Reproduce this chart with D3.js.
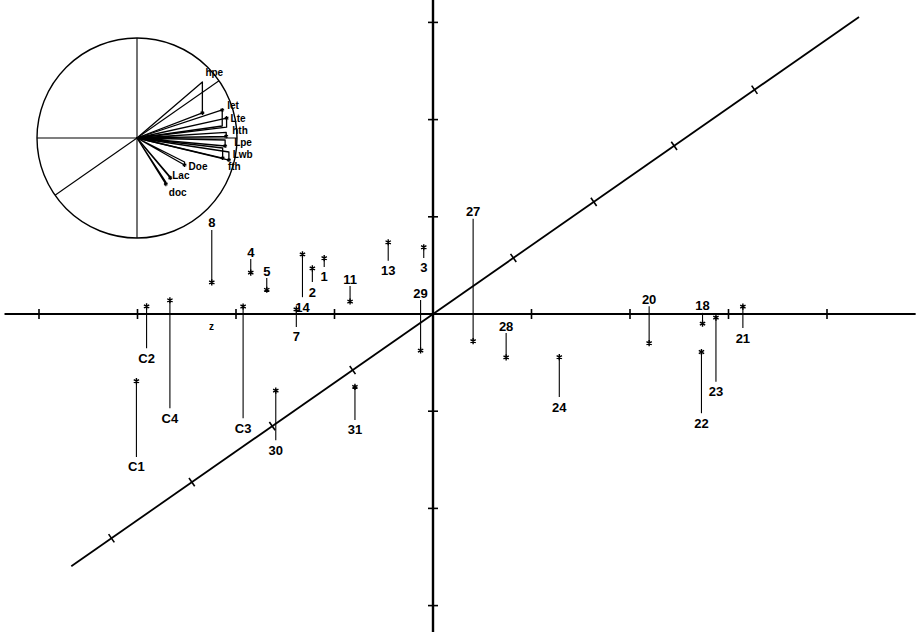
<!DOCTYPE html>
<html>
<head>
<meta charset="utf-8">
<script src="https://cdn.jsdelivr.net/npm/d3@7"></script>
<style>
  body { margin: 0; background: #fff; }
  text { font-family: "Liberation Sans", Arial, sans-serif; font-weight: bold; fill: #000; }
</style>
</head>
<body>
<div id="chart"></div>
<script>
// observations: x = horizontal axis, z = depth (diagonal axis), y = height above the x-z plane
var labels = ["8", "4", "5", "14", "2", "1", "11", "13", "3", "29", "27", "28", "24",
    "20", "18", "22", "23", "21", "C1", "C2", "C4", "C3", "7", "30", "31"];
var xVals = [-3.47, -2.65, -2.21, -1.57, -1.69, -1.79, -1.25, -1.23, -0.91, -0.33, -0.98, 1.02, 2.49,
    2.08, 2.72, 4.17, 3.86, 3.35, -0.93, -2.41, -1.30, -0.41, -1.20, 0.24, 0.75];
var zVals = [1.50, 0.98, 0.64, 0.30, 0.57, 0.84, 0.50, 0.95, 1.00, 0.25, 1.70, -0.34, -1.48,
    0.14, 0.02, -1.77, -1.21, -0.25, -2.55, -0.61, -1.68, -1.86, -0.23, -2.25, -1.89];
var yVals = [-0.54, -0.14, -0.12, 0.44, 0.14, 0.09, -0.16, 0.19, 0.11, -0.52, -1.26, -0.25, 0.41,
    -0.38, -0.11, 0.63, 0.66, 0.22, 0.78, 0.43, 1.11, 1.15, 0.18, 0.51, 0.34];

// axis ticks
var xTicks = [-4, -3, -2, -1, 1, 2, 3, 4];
var yTicks = [-3, -2, -1, 1, 2, 3];
var zTicks = [-4, -3, -2, -1, 1, 2, 3, 4];

// variables in the correlation circle
var varNames = ["hpe", "let", "Lte", "hth", "Lpe", "Lwb", "fth", "Doe", "Lac", "doc"];
var varX = [-0.15, 0.68, 0.74, 0.81, 0.91, 1.00, 1.12, 0.82, 0.89, 0.92];
var varZ = [0.98, 0.21, 0.19, 0.10, -0.035, -0.175, -0.245, -0.42, -0.68, -0.77];
var varY = [-0.31, 0.16, 0.09, -0.04, -0.06, -0.10, -0.08, -0.03, -0.01, -0.02];

let width = 920;
let height = 632;

let svg = d3.select("#chart").append("svg")
    .attr("width", width)
    .attr("height", height);

svg.append("rect").attr("width", width).attr("height", height).attr("fill", "#fff");

let ox = 433, oy = 314;
let x = d3.scaleLinear().domain([0, 1]).range([ox, ox + 98.5]);
let y = d3.scaleLinear().domain([0, 1]).range([oy, oy - 97.2]);
let z = d3.scaleLinear().domain([0, 1]).range([0, 98]);
let ang = Math.atan2(56, 80.3);

function project(px, py, pz) {
    return [x(px) + z(pz) * Math.cos(ang), y(py) - z(pz) * Math.sin(ang)];
}

let axes = svg.append("g").attr("stroke", "#000").attr("fill", "none");

// horizontal axis
axes.append("line")
    .attr("x1", x(-4.35)).attr("y1", oy).attr("x2", x(4.9)).attr("y2", oy)
    .attr("stroke-width", 1.8);
axes.selectAll(".xtick").data(xTicks).join("line")
    .attr("class", "xtick")
    .attr("x1", d => x(d)).attr("x2", d => x(d))
    .attr("y1", oy - 5).attr("y2", oy + 5)
    .attr("stroke-width", 1.6);

// vertical axis
axes.append("line")
    .attr("x1", ox).attr("y1", y(3.25)).attr("x2", ox).attr("y2", y(-3.3))
    .attr("stroke-width", 2.4);
axes.selectAll(".ytick").data(yTicks).join("line")
    .attr("class", "ytick")
    .attr("x1", ox - 5).attr("x2", ox + 5)
    .attr("y1", d => y(d)).attr("y2", d => y(d))
    .attr("stroke-width", 1.6);

// diagonal (depth) axis
let d0 = project(0, 0, -4.5), d1 = project(0, 0, 5.3);
axes.append("line")
    .attr("x1", d0[0]).attr("y1", d0[1]).attr("x2", d1[0]).attr("y2", d1[1])
    .attr("stroke-width", 1.8);
let nx = Math.sin(ang) * 5, ny = Math.cos(ang) * 5;
axes.selectAll(".ztick").data(zTicks).join("line")
    .attr("class", "ztick")
    .attr("x1", d => project(0, 0, d)[0] - nx).attr("y1", d => project(0, 0, d)[1] - ny)
    .attr("x2", d => project(0, 0, d)[0] + nx).attr("y2", d => project(0, 0, d)[1] + ny)
    .attr("stroke-width", 1.6);

// points with drop lines
let points = labels.map((l, i) => {
    let base = project(xVals[i], 0, zVals[i]);
    let top = project(xVals[i], yVals[i], zVals[i]);
    return {label: l, base: base, mark: top, up: yVals[i] > 0};
});

let star = d3.symbol().type(d3.symbolAsterisk || d3.symbolCross).size(26);

let pts = svg.append("g");
pts.selectAll("line").data(points).join("line")
    .attr("x1", d => d.base[0]).attr("y1", d => d.base[1])
    .attr("x2", d => d.mark[0]).attr("y2", d => d.mark[1])
    .attr("stroke", "#000").attr("stroke-width", 1.1);
pts.selectAll("path").data(points).join("path")
    .attr("d", star)
    .attr("transform", d => "translate(" + d.mark[0] + "," + d.mark[1] + ")")
    .attr("stroke", "#000").attr("stroke-width", 1.4).attr("fill", "none");
pts.selectAll("text").data(points).join("text")
    .attr("x", d => d.base[0])
    .attr("y", d => d.base[1] + (d.up ? 10 : -7))
    .attr("dy", "0.35em")
    .attr("text-anchor", "middle")
    .style("font-size", "13px")
    .text(d => d.label);

// small z mark below the horizontal axis
let zPos = project(-2.25, 0, 0);
svg.append("text").attr("x", zPos[0]).attr("y", zPos[1] + 12).attr("dy", "0.35em")
    .attr("text-anchor", "middle").style("font-size", "10px").text("z");

// correlation circle inset
let icx = 137, icy = 138, R = 100;
let ix = d3.scaleLinear().domain([-1, 1]).range([icx - R, icx + R]);
let iy = d3.scaleLinear().domain([-1, 1]).range([icy + R, icy - R]);
let iz = d3.scaleLinear().domain([0, 1]).range([0, R]);

function iproject(px, py, pz) {
    return [ix(px) + iz(pz) * Math.cos(ang), iy(py) - iz(pz) * Math.sin(ang)];
}

let inset = svg.append("g").attr("stroke", "#000").attr("fill", "none");
inset.append("circle").attr("cx", icx).attr("cy", icy).attr("r", R).attr("stroke-width", 1.4);
inset.append("line").attr("x1", ix(-1)).attr("y1", icy).attr("x2", ix(1)).attr("y2", icy).attr("stroke-width", 1.1);
inset.append("line").attr("x1", icx).attr("y1", iy(1)).attr("x2", icx).attr("y2", iy(-1)).attr("stroke-width", 1.1);
let e0 = iproject(0, 0, -1), e1 = iproject(0, 0, 1);
inset.append("line").attr("x1", e0[0]).attr("y1", e0[1]).attr("x2", e1[0]).attr("y2", e1[1]).attr("stroke-width", 1.1);

// label nudges relative to each variable's marker
let nudge = [[3, -40], [5, -4], [4, 0], [6, -6], [9, -4], [10, -4], [-1, 6], [4, 1], [2, -2], [3, 8]];

let vars = varNames.map((n, i) => ({
    name: n,
    base: iproject(varX[i], 0, varZ[i]),
    mark: iproject(varX[i], varY[i], varZ[i]),
    nudge: nudge[i]
}));

inset.selectAll(".vec").data(vars).join("path")
    .attr("class", "vec")
    .attr("d", d => "M" + icx + "," + icy + "L" + d.base[0] + "," + d.base[1] +
        "L" + d.mark[0] + "," + d.mark[1] + "Z")
    .attr("stroke-width", 1.3)
    .attr("stroke-linejoin", "round");
inset.selectAll(".vmark").data(vars).join("path")
    .attr("class", "vmark")
    .attr("d", d3.symbol().type(d3.symbolAsterisk || d3.symbolCross).size(12))
    .attr("transform", d => "translate(" + d.mark[0] + "," + d.mark[1] + ")")
    .attr("stroke-width", 1.2);

svg.append("g").selectAll("text").data(vars).join("text")
    .attr("x", d => d.mark[0] + d.nudge[0])
    .attr("y", d => d.mark[1] + d.nudge[1])
    .attr("dy", "0.35em")
    .style("font-size", "10px")
    .text(d => d.name);
</script>
</body>
</html>
